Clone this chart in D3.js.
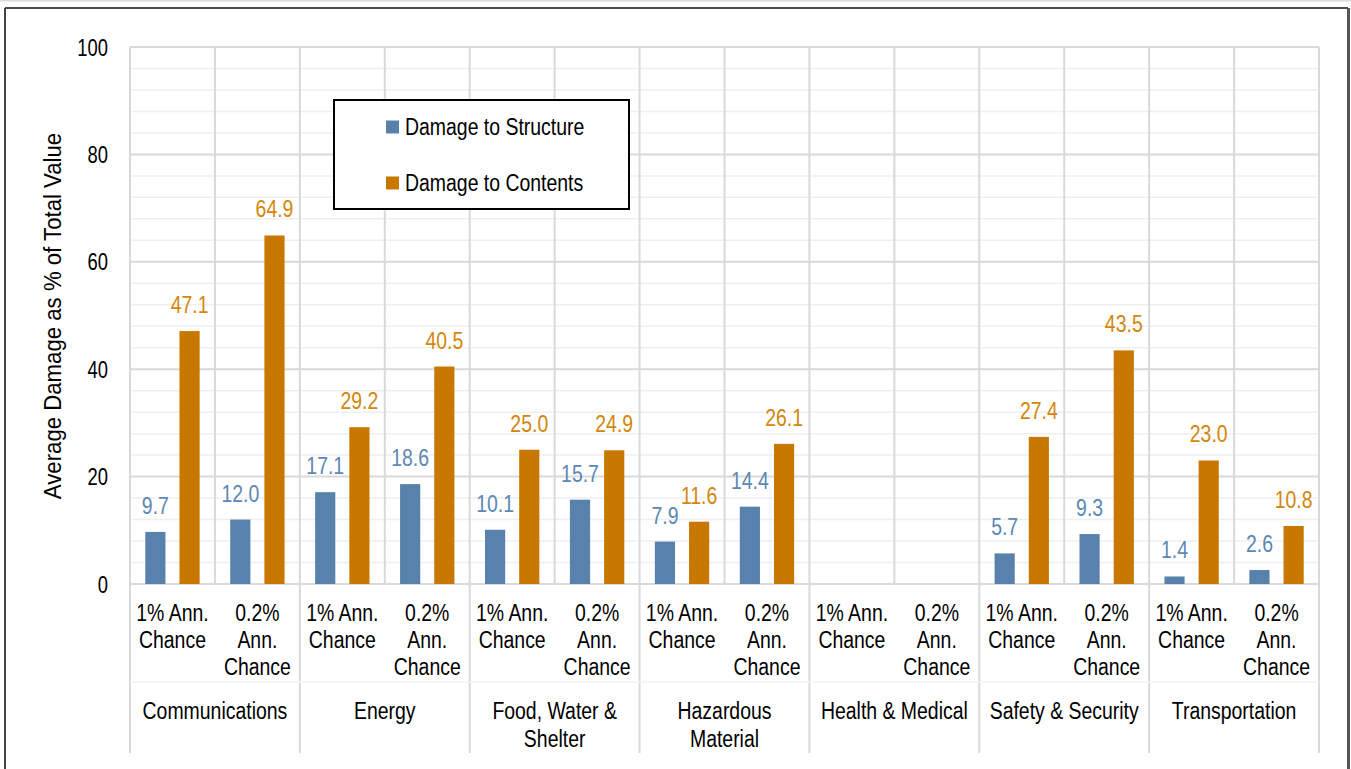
<!DOCTYPE html>
<html><head><meta charset="utf-8">
<script src="https://cdn.jsdelivr.net/npm/d3@7"></script>
<style>html,body{margin:0;padding:0;background:#fff;overflow:hidden}svg{display:block}text{font-family:"Liberation Sans",Arial,sans-serif}</style>
</head><body>
<svg id="c" width="1351" height="769"></svg>
<script>
// ---- data ----
const categories = ["Communications", "Energy", "Food, Water & Shelter", "Hazardous Material", "Health & Medical", "Safety & Security", "Transportation"];
const categoryLines = [["Communications"], ["Energy"], ["Food, Water &", "Shelter"], ["Hazardous", "Material"], ["Health & Medical"], ["Safety & Security"], ["Transportation"]];
const subcategories = ["1% Ann. Chance", "0.2% Ann. Chance"];
const subcategoryLines = [["1% Ann.", "Chance"], ["0.2%", "Ann.", "Chance"]];
const seriesNames = ["Damage to Structure", "Damage to Contents"];
const structure = [9.7, 12.0, 17.1, 18.6, 10.1, 15.7, 7.9, 14.4, null, null, 5.7, 9.3, 1.4, 2.6];
const contents  = [47.1, 64.9, 29.2, 40.5, 25.0, 24.9, 11.6, 26.1, null, null, 27.4, 43.5, 23.0, 10.8];
const yTicks = [0, 20, 40, 60, 80, 100];
const yTitle = "Average Damage as % of Total Value";

// ---- layout ----
const svg = d3.select("#c");
const K = 0.81;          // horizontal condensation of text
const FS = 24;
const pL = 130, pR = 1319, pT = 47, pB = 584;
const colors = ["#5882ac", "#c87700"];
const labelColors = ["#5b88b5", "#d4860b"];

const rows = [];
categories.forEach((c, ci) => subcategories.forEach((s, si) => rows.push({ci, si, idx: rows.length})));
const x = d3.scaleBand().domain(rows.map(r => r.idx)).range([pL, pR]).padding(0);
const inner = d3.scaleBand().domain([0, 1]).range([x.bandwidth() * 0.18, x.bandwidth() * 0.82]).paddingInner(0.41);
const y = d3.scaleLinear().domain([0, 100]).range([pB, pT]);

function ctext(parent, px, py, lines, o = {}) {
  const size = o.size || FS, k = o.k || K, lh = o.lh || 27;
  const g = parent.append("g").attr("transform", `translate(${px},${py}) rotate(${o.rotate || 0}) scale(${k},1)`);
  const t = g.append("text").attr("text-anchor", o.anchor || "middle").attr("font-size", size).attr("fill", o.fill || "#000");
  (Array.isArray(lines) ? lines : [lines]).forEach((l, i) => t.append("tspan").attr("x", 0).attr("y", i * lh).text(l));
  return g;
}

// outer frame
svg.append("line").attr("x1", 0).attr("x2", 1351).attr("y1", 0.5).attr("y2", 0.5).attr("stroke", "#dcdcdc").attr("stroke-width", 2);
svg.append("line").attr("x1", 5).attr("x2", 1348).attr("y1", 8).attr("y2", 8).attr("stroke", "#111").attr("stroke-width", 1.5);
svg.append("line").attr("x1", 5).attr("x2", 5).attr("y1", 8).attr("y2", 769).attr("stroke", "#444").attr("stroke-width", 2);
svg.append("line").attr("x1", 1348.5).attr("x2", 1348.5).attr("y1", 8).attr("y2", 769).attr("stroke", "#555").attr("stroke-width", 3);

// gridlines
const minor = d3.range(0, 101, 4).filter(v => v % 20 !== 0);
svg.append("g").selectAll("line").data(minor).join("line")
  .attr("x1", pL).attr("x2", pR).attr("y1", d => y(d)).attr("y2", d => y(d))
  .attr("stroke", "#efefef").attr("stroke-width", 1.5);
svg.append("g").selectAll("line").data(yTicks).join("line")
  .attr("x1", pL).attr("x2", pR).attr("y1", d => y(d)).attr("y2", d => y(d))
  .attr("stroke", "#d9d9d9").attr("stroke-width", 2);
// vertical separators
const bounds = rows.map(r => r.idx).concat([rows.length]);
svg.append("g").selectAll("line").data(bounds).join("line")
  .attr("x1", d => d < rows.length ? x(d) : pR).attr("x2", d => d < rows.length ? x(d) : pR)
  .attr("y1", pT).attr("y2", d => d % 2 === 0 ? 753 : pB)
  .attr("stroke", "#d9d9d9").attr("stroke-width", 2);
// faint row separator in the axis
svg.append("line").attr("x1", pL).attr("x2", pR).attr("y1", 682).attr("y2", 682).attr("stroke", "#f3f3f3").attr("stroke-width", 1.5);

// y axis (labels only)
const yAxis = svg.append("g").attr("transform", `translate(${pL},0)`)
  .call(d3.axisLeft(y).tickValues(yTicks).tickSize(0).tickFormat(d3.format("d")));
yAxis.select(".domain").remove();
yAxis.selectAll("text")
  .attr("font-family", '"Liberation Sans",Arial,sans-serif').attr("font-size", 23).attr("fill", "#000")
  .attr("x", -22 / 0.8).attr("dy", 8).attr("text-anchor", "end")
  .attr("transform", `scale(0.8,1)`);

// y title
ctext(svg, 61, 316, yTitle, {rotate: -90, size: 24, k: 0.925});

// x axis (sub-category labels)
const xAxis = svg.append("g").attr("transform", `translate(0,${pB})`)
  .call(d3.axisBottom(x).tickSize(0).tickFormat(i => subcategories[i % 2]));
xAxis.select(".domain").remove();
xAxis.selectAll(".tick").each(function(i) {
  const g = d3.select(this);
  const t = g.select("text");
  t.text(null).attr("y", 0).attr("dy", null)
    .attr("font-family", '"Liberation Sans",Arial,sans-serif').attr("font-size", FS).attr("fill", "#000")
    .attr("transform", `scale(${K},1)`).attr("text-anchor", "middle");
  subcategoryLines[i % 2].forEach((l, j) => t.append("tspan").attr("x", 0).attr("y", 37 + j * 27).text(l));
});
// axis baseline
svg.append("line").attr("x1", pL).attr("x2", pR).attr("y1", pB).attr("y2", pB).attr("stroke", "#d9d9d9").attr("stroke-width", 2);

// category labels
categoryLines.forEach((lines, ci) => {
  const cx = (x(ci * 2) + x(ci * 2 + 1) + x.bandwidth()) / 2;
  ctext(svg, cx, 719, lines, {lh: 28});
});

// bars
const series = [structure, contents];
series.forEach((vals, si) => {
  const data = rows.filter(r => vals[r.idx] != null).map(r => ({r, v: vals[r.idx]}));
  svg.append("g").selectAll("rect").data(data).join("rect")
    .attr("x", d => x(d.r.idx) + inner(si)).attr("width", inner.bandwidth())
    .attr("y", d => y(d.v)).attr("height", d => y(0) - y(d.v))
    .attr("fill", colors[si]);
  const lg = svg.append("g");
  data.forEach(d => ctext(lg, x(d.r.idx) + inner(si) + inner.bandwidth() / 2, y(d.v) - 18, d.v.toFixed(1), {fill: labelColors[si]}));
});

// legend
const leg = svg.append("g");
leg.append("rect").attr("x", 334).attr("y", 100).attr("width", 295).attr("height", 109)
  .attr("fill", "#fff").attr("stroke", "#000").attr("stroke-width", 2);
seriesNames.forEach((n, i) => {
  const cy = 127 + i * 56;
  leg.append("rect").attr("x", 386).attr("y", cy - 6.5).attr("width", 13).attr("height", 13).attr("fill", colors[i]);
  ctext(leg, 405, cy + 8, n, {anchor: "start"});
});
</script>
</body></html>
